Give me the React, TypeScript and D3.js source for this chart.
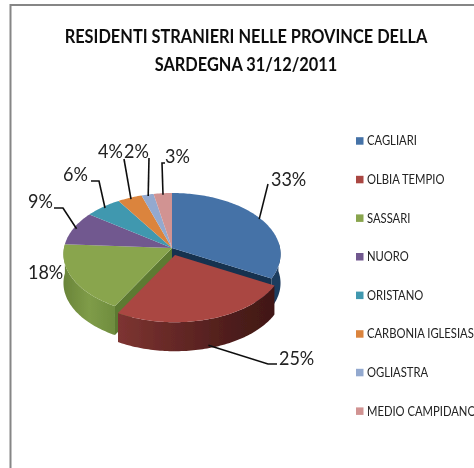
import React from "react";
import * as d3 from "d3";

const categories = ["CAGLIARI", "OLBIA TEMPIO", "SASSARI", "NUORO", "ORISTANO", "CARBONIA IGLESIAS", "OGLIASTRA", "MEDIO CAMPIDANO"];
const shares = [33, 25, 18, 9, 6, 4, 2, 3];
const colors = ["#4572A7", "#AA4643", "#89A54E", "#71588F", "#4198AF", "#DB843D", "#93A9CF", "#D19392"];
const titleLines = ["RESIDENTI STRANIERI NELLE PROVINCE DELLA", "SARDEGNA 31/12/2011"];

const W = 474, H = 468;
const cx = 172, cy = 248, A = 108, B = 60.5, K = 0.1, DEPTH = 29;
const FONT = "Lato, 'Open Sans', sans-serif";

// label placement: [text x, baseline y, leader elbow points] per slice
const labelPos: [number, number][] = [[271, 186], [279, 365], [28, 279], [28, 208], [63, 181], [98, 158], [124, 158], [165, 163]];
const leaderBends: [number, number][][] = [
  [[268, 184]],
  [[268, 364], [277, 364]],
  [],
  [[63, 208], [54, 208]],
  [[99, 181], [91, 181]],
  [[124, 159]],
  [[149, 158]],
  [[162, 163], [165, 163]],
];
const leaderInset = [0.985, 0.99, 0, 0.97, 0.97, 0.97, 0.97, 0.97];

const offsets: [number, number][] = [[0, 0], [3, 7], [0, 0], [0, 0], [0, 0], [0, 0], [0, 0], [0, 0]];

function project(a: number, dx = 0, dy = 0, r = 1): [number, number] {
  const w = 1 + K * r * Math.cos(a);
  return [cx + dx + (A * r * Math.sin(a)) / w, cy + dy - (B * r * Math.cos(a)) / w];
}

const line = d3.line<[number, number]>().x((d) => d[0]).y((d) => d[1]);

function arcPts(a0: number, a1: number, dx = 0, dy = 0): [number, number][] {
  const n = Math.max(2, Math.ceil((a1 - a0) / 0.02));
  return d3.range(n + 1).map((i) => project(a0 + ((a1 - a0) * i) / n, dx, dy));
}

export default function App() {
  const pie = d3.pie<number>().sort(null).startAngle(0).endAngle(2 * Math.PI);
  const slices = pie(shares);
  const apex = (i: number): [number, number] => [cx + offsets[i][0], cy + offsets[i][1]];

  const topPath = (i: number) => {
    const s = slices[i];
    const [dx, dy] = offsets[i];
    return line([apex(i), ...arcPts(s.startAngle, s.endAngle, dx, dy)]) + "Z";
  };
  const wallPath = (i: number, lo: number, hi: number) => {
    const [dx, dy] = offsets[i];
    const top = arcPts(lo, hi, dx, dy);
    const bot = top.map(([x, y]) => [x, y + DEPTH] as [number, number]).reverse();
    return line([...top, ...bot]) + "Z";
  };
  const cutPath = (i: number, a: number) => {
    const p = apex(i);
    const q = project(a, offsets[i][0], offsets[i][1]);
    return line([p, q, [q[0], q[1] + DEPTH], [p[0], p[1] + DEPTH]]) + "Z";
  };

  const leftLimit = (3 * Math.PI) / 2 + 0.1;
  const rightLimit = Math.PI / 2 - 0.1;

  return (
    <svg width={W} height={H} viewBox={`0 0 ${W} ${H}`} style={{ position: "fixed", left: 0, top: 0, background: "#fff" }}>
      <defs>
        <filter id="soft" x="-5%" y="-5%" width="110%" height="110%">
          <feGaussianBlur stdDeviation="0.45" />
        </filter>
        <linearGradient id="redWall" gradientUnits="userSpaceOnUse" x1="119" x2="280" y1="0" y2="0">
          <stop offset="0" stopColor="#7d3431" />
          <stop offset="0.35" stopColor="#652826" />
          <stop offset="0.75" stopColor="#4b1c1a" />
          <stop offset="1" stopColor="#3f1715" />
        </linearGradient>
        <linearGradient id="greenWall" gradientUnits="userSpaceOnUse" x1="64" x2="120" y1="0" y2="0">
          <stop offset="0" stopColor="#6a853a" />
          <stop offset="0.45" stopColor="#7f9c48" />
          <stop offset="1" stopColor="#6c8a3d" />
        </linearGradient>
      </defs>
      <g filter="url(#soft)">
        <path d={`M10.5,468V5H474`} fill="none" stroke="#868686" strokeWidth={2} />

        {titleLines.map((t, i) => (
          <text key={t} transform={`translate(246,${43 + i * 27.5}) scale(0.91,1)`} textAnchor="middle" fontFamily={FONT} fontSize={18} fontWeight={700} fill="#111">{t}</text>
        ))}

        {/* side walls */}
        <path d={wallPath(0, rightLimit, slices[0].endAngle)} fill="#1f3c5e" />
        <path d={cutPath(0, slices[0].endAngle)} fill="#17324f" />
        <path d={wallPath(2, slices[2].startAngle, Math.min(slices[2].endAngle, leftLimit))} fill="url(#greenWall)" />
        <path d={cutPath(2, slices[2].startAngle)} fill="#5d7a33" />
        <path d={wallPath(1, slices[1].startAngle, slices[1].endAngle)} fill="url(#redWall)" />

        {/* tops */}
        {slices.map((s, i) => (
          <path key={categories[i]} d={topPath(i)} fill={colors[i]} />
        )).filter((_, i) => i !== 1)}
        <path d={topPath(1)} fill={colors[1]} />

        {/* leaders */}
        {slices.map((s, i) => {
          if (!leaderBends[i].length) return null;
          const mid = (s.startAngle + s.endAngle) / 2;
          const [dx, dy] = offsets[i];
          let start: [number, number];
          if (i === 1) {
            const q = project(mid, dx, dy);
            start = [q[0], q[1] + DEPTH - 3];
          } else {
            start = project(mid, dx, dy, leaderInset[i]);
          }
          return <path key={i} d={line([start, ...leaderBends[i]]) ?? ""} fill="none" stroke="#111" strokeWidth={1.6} />;
        })}

        {/* percentage labels */}
        {shares.map((v, i) => (
          <text key={i} transform={`translate(${labelPos[i][0]},${labelPos[i][1]}) scale(0.9,1)`} fontFamily={FONT} fontSize={20} fill="#222">{v}%</text>
        ))}

        {/* legend */}
        {categories.map((c, i) => {
          const y = 141 + i * 38.6;
          return (
            <g key={c}>
              <rect x={356} y={y - 3.8} width={7.5} height={7.5} fill={colors[i]} />
              <text transform={`translate(367,${y + 4.4}) scale(0.9,1)`} fontFamily={FONT} fontSize={12.5} fill="#222">{c}</text>
            </g>
          );
        })}
      </g>
    </svg>
  );
}
